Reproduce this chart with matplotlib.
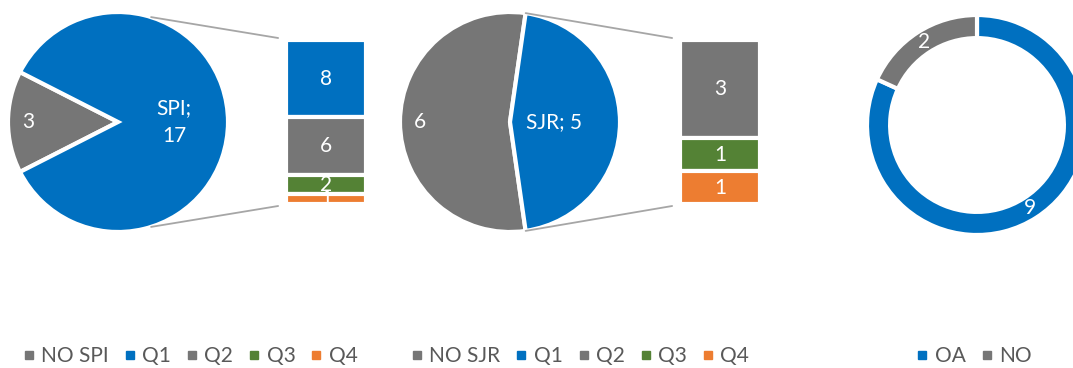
import numpy as np
import matplotlib.pyplot as plt
from matplotlib.lines import Line2D
from matplotlib.patches import ConnectionPatch

plt.rcParams['font.family'] = ['Lato', 'DejaVu Sans']

# Data
spi_names = ['NO SPI', 'SPI']
spi_values = [3, 17]
spi_q_values = [8, 6, 2, 1]

sjr_names = ['NO SJR', 'SJR']
sjr_values = [6, 5]
sjr_q_values = [0, 3, 1, 1]

quartiles = ['Q1', 'Q2', 'Q3', 'Q4']

oa_names = ['OA', 'NO']
oa_values = [9, 2]

# Colours
BLUE = '#0070C0'
GRAY = '#767676'
GREEN = '#548235'
ORANGE = '#ED7D31'
LINE = '#A6A6A6'
TEXT = '#595959'
q_colors = [BLUE, GRAY, GREEN, ORANGE]

FS = 15
W, H = 1073, 368
fig = plt.figure(figsize=(W / 100, H / 100), dpi=100)


def px_axes(left, top, width, height):
    """Axes placed by pixel box (y measured from the top)."""
    ax = fig.add_axes([left / W, (H - top - height) / H, width / W, height / H])
    ax.axis('off')
    return ax


def bar_of_pie(cx, cy, names, values, q_values, bar_left, label_r, wrap, link_max):
    ax = px_axes(cx - 110, cy - 110, 220, 220)
    frac = values[0] / sum(values)
    wedges, _ = ax.pie(values, colors=[GRAY, BLUE], startangle=180 - frac * 180,
                       wedgeprops=dict(edgecolor='white', linewidth=3))
    ax.set_xlim(-1, 1)
    ax.set_ylim(-1, 1)

    texts = [str(values[0]), names[1] + (';\n' if wrap else '; ') + str(values[1])]
    for w, t, r in zip(wedges, texts, label_r):
        mid = np.deg2rad((w.theta1 + w.theta2) / 2)
        ax.text(r * np.cos(mid), r * np.sin(mid), t, ha='center', va='center',
                color='white', fontsize=FS, linespacing=1.45)

    # stacked bar with the breakdown of the second slice
    total = sum(q_values)
    bax = px_axes(bar_left - 2, 38, 84, 168)
    bax.set_xlim(0, 1)
    pad = total * 2 / 164
    bax.set_ylim(total + pad, -pad)
    bottom = 0
    for v, c in zip(q_values, q_colors):
        if v == 0:
            continue
        rect = bax.bar(0.5, v, bottom=bottom, width=80 / 84, color=c,
                       edgecolor='white', linewidth=3)[0]
        t = bax.text(0.5, bottom + v / 2, str(v), ha='center', va='center',
                     color='white', fontsize=FS)
        t.set_clip_path(rect)
        bottom += v

    # series lines from the pie to the bar
    a = np.deg2rad(min(180 - frac * 180, link_max))
    for sgn, yb in [(1, 1.0), (-1, 0.0)]:
        con = ConnectionPatch(xyA=(np.cos(a), sgn * np.sin(a)), coordsA=ax.transData,
                              xyB=(-0.07, yb), coordsB=bax.transAxes,
                              color=LINE, linewidth=1.3)
        fig.add_artist(con)


bar_of_pie(118, 122, spi_names, spi_values, spi_q_values, 286,
           label_r=[0.82, 0.51], wrap=True, link_max=72.5)
bar_of_pie(510, 122, sjr_names, sjr_values, sjr_q_values, 680,
           label_r=[0.82, 0.40], wrap=False, link_max=90)

# Doughnut
dax = px_axes(977 - 110, 125 - 110, 220, 220)
ring = 0.21
wedges, _ = dax.pie(oa_values, colors=[BLUE, GRAY], startangle=90, counterclock=False,
                    wedgeprops=dict(width=ring, edgecolor='white', linewidth=3))
dax.set_xlim(-1, 1)
dax.set_ylim(-1, 1)
for w, v in zip(wedges, oa_values):
    mid = np.deg2rad((w.theta1 + w.theta2) / 2)
    r = 1 - ring / 2
    dax.text(r * np.cos(mid), r * np.sin(mid), str(v), ha='center', va='center',
             color='white', fontsize=FS)


def legend(names, colors, cx):
    handles = [Line2D([], [], marker='s', linestyle='none', markersize=6, color=c)
               for c in colors]
    fig.legend(handles, names, loc='center', bbox_to_anchor=(cx / W, 1 - 356 / H),
               ncol=len(names), frameon=False, handlelength=0.6, handletextpad=0.3,
               columnspacing=0.7, fontsize=15, labelcolor=TEXT)


legend([spi_names[0]] + quartiles, [GRAY] + q_colors, 190)
legend([sjr_names[0]] + quartiles, [GRAY] + q_colors, 580)
legend(oa_names, [BLUE, GRAY], 974)

fig.savefig('out.png', dpi=100)
